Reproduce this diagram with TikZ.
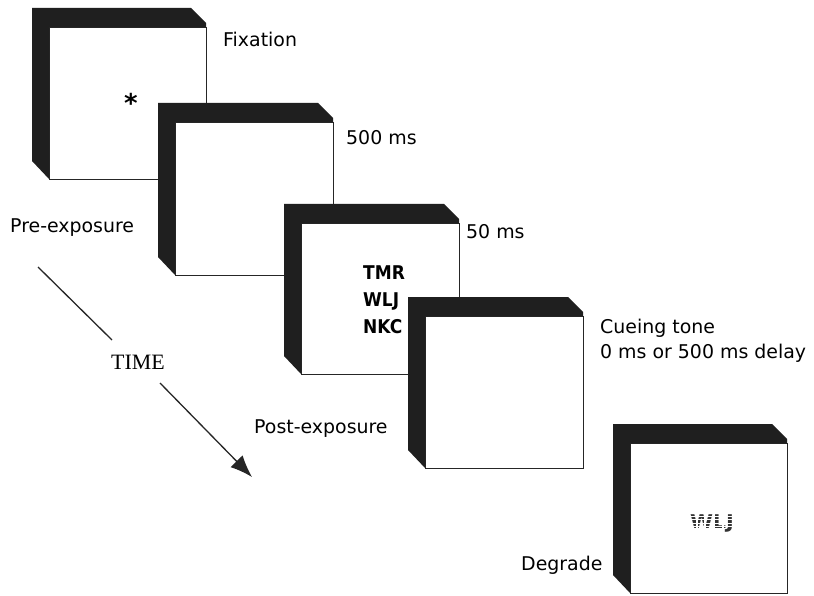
\documentclass[tikz,border=0pt]{standalone}
\usepackage{fontspec}
\setmainfont{DejaVu Sans}
\newfontfamily\serifface{Liberation Serif}
\usetikzlibrary{arrows.meta}
\begin{document}
\begin{tikzpicture}[x=1bp,y=-1bp,
  frame/.style={fill=black!88},
  panel/.style={fill=white,draw=black!85,line width=0.9bp},
  lab/.style={anchor=base west,inner sep=0pt,font=\fontsize{19}{23}\selectfont},
  stim/.style={anchor=base west,inner sep=0pt,xscale=0.9,font=\fontsize{19}{22}\selectfont\bfseries},
  timeline/.style={line width=1.3bp,black!85}]
\useasboundingbox[fill=white] (0,0) rectangle (814,596);
\newcommand\screen[5]{%
  \draw[panel] ({#2+17},{#3+19}) rectangle (#4,#5);
  \fill[frame] (#2,#3) -- ({#4-15},#3) -- (#4,{#3+15}) -- (#4,{#3+19}) -- ({#2+17},{#3+19}) -- ({#2+17},#5) -- (#2,{#5-18}) -- cycle;
  \coordinate (#1) at ({(#2+17+#4)/2},{(#3+19+#5)/2});
}
\screen{s1}{32}{8}{206}{179}
\screen{s2}{158}{103}{333}{275}
\screen{s3}{284}{204}{459}{374}
\screen{s4}{408}{297}{583}{468}
\screen{s5}{613}{424}{787}{593}
% screen contents
\node[anchor=base,inner sep=0pt,font=\fontsize{26}{26}\selectfont\bfseries] (star) at (131,113) {*};
\node[stim] (l1) at (363,279) {TMR};
\node[stim] (l2) at (363,306) {WLJ};
\node[stim] (l3) at (363,333) {NKC};
\node[anchor=base,inner sep=0pt,xscale=1.1,font=\fontsize{19}{19}\selectfont\bfseries,black!80] (deg) at (712,528) {WLJ};
\foreach \yy in {515.5,519,522.5,526}{\fill[white] (686,\yy) rectangle (738,{\yy+1.3});}
\foreach \xx in {696,704,713,722}{\fill[white] (\xx,510) rectangle ({\xx+1.5},530);}
% labels
\node[lab] (fix) at (223,47) {Fixation};
\node[lab] (t500) at (346,145) {500 ms};
\node[lab] (t50) at (466,239) {50 ms};
\node[lab] (cue) at (600,333) {Cueing tone};
\node[lab] (cue2) at (600,358) {0 ms or 500 ms delay};
\node[lab] (pre) at (10,233) {Pre-exposure};
\node[lab] (post) at (254,433) {Post-exposure};
\node[lab] (degl) at (521,570) {Degrade};
% time arrow
\node[anchor=base,inner sep=0pt,font=\serifface\fontsize{22}{22}\selectfont] (time) at (138,369) {TIME};
\coordinate (ta) at (38,267);
\coordinate (tb) at (112,340);
\coordinate (tc) at (160,383);
\coordinate (td) at (252,477);
\draw[timeline] (ta) -- (tb);
\draw[timeline,-{Latex[length=22bp,width=17bp]}] (tc) -- (td);
\end{tikzpicture}
\end{document}
